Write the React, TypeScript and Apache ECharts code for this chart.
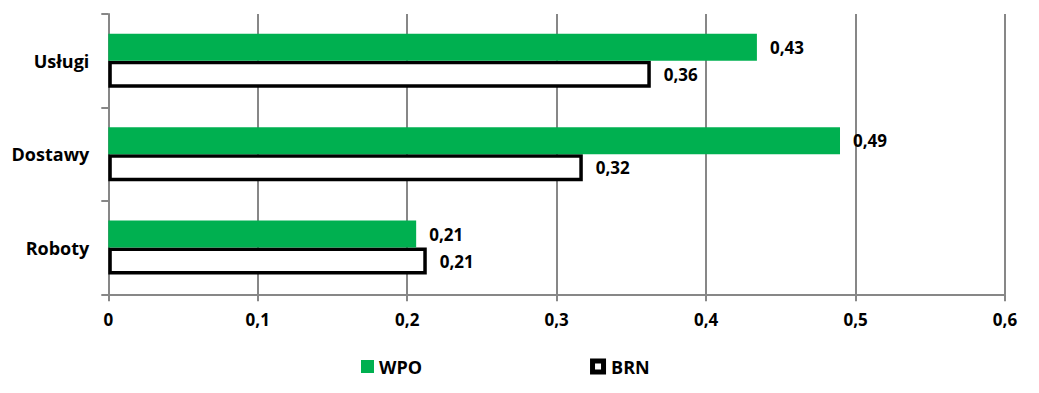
import React, { useEffect, useRef } from "react";
import * as echarts from "echarts";

const categories = ["Roboty", "Dostawy", "Usługi"];
const wpoValues = [0.206, 0.4896, 0.434];
const brnValues = [0.2131, 0.3175, 0.363];
const xTickLabels = ["0", "0,1", "0,2", "0,3", "0,4", "0,5", "0,6"];
const seriesNames = ["WPO", "BRN"];

const FONT = "'Open Sans', 'Noto Sans', sans-serif";
const GRAY = "#878787";
const GREEN = "#00B050";

const fmt = (v: number) => v.toFixed(2).replace(".", ",");

export default function App() {
  const ref = useRef<HTMLDivElement>(null);
  useEffect(() => {
    if (!ref.current) return;
    const chart = echarts.init(ref.current, undefined, { renderer: "svg" });
    const labelStyle = {
      show: true,
      position: "right" as const,
      distance: 13,
      fontFamily: FONT,
      fontWeight: "bold" as const,
      fontSize: 17,
      color: "#000",
      formatter: (p: any) => fmt(p.value),
    };
    chart.setOption({
      animation: false,
      textStyle: { fontFamily: FONT },
      grid: { left: 108.3, right: 34, top: 14, bottom: 98.7, containLabel: false },
      legend: {
        left: 358,
        top: 357.5,
        padding: 0,
        itemWidth: 16,
        itemHeight: 16,
        itemGap: 168,
        textStyle: { fontFamily: FONT, fontWeight: "bold", fontSize: 18, color: "#000" },
        data: [
          {
            name: seriesNames[0],
            icon: "path://M0,0M16,16M3,1.5H16V14.5H3Z",
            itemStyle: { color: GREEN, borderWidth: 0 },
          },
          {
            name: seriesNames[1],
            icon: "path://M0,0H16V16H0Z M5,5V11H11V5Z",
            itemStyle: { color: "#000", borderWidth: 0 },
          },
        ],
      },
      xAxis: {
        type: "value",
        min: 0,
        max: 0.6,
        interval: 0.1,
        axisLine: { show: true, lineStyle: { color: GRAY, width: 2 } },
        axisTick: { show: true, length: 7, lineStyle: { color: GRAY, width: 2 } },
        splitLine: { show: true, lineStyle: { color: GRAY, width: 2 } },
        axisLabel: {
          margin: 17,
          fontFamily: FONT,
          fontWeight: "bold",
          fontSize: 17,
          color: "#000",
          formatter: (_v: number, i: number) => xTickLabels[i],
        },
      },
      yAxis: {
        type: "category",
        data: categories,
        axisLine: { show: true, lineStyle: { color: GRAY, width: 2 } },
        axisTick: { show: true, length: 7, lineStyle: { color: GRAY, width: 2 } },
        axisLabel: {
          margin: 19,
          fontFamily: FONT,
          fontWeight: "bold",
          fontSize: 18,
          color: "#000",
        },
      },
      series: [
        {
          name: seriesNames[0],
          type: "bar",
          data: wpoValues,
          barWidth: 27,
          barGap: "0%",
          z: 3,
          itemStyle: { color: GREEN },
          label: labelStyle,
        },
        {
          name: seriesNames[1],
          type: "bar",
          data: brnValues,
          barWidth: 27,
          barGap: "0%",
          z: 2,
          itemStyle: { color: "#fff", borderColor: "#000", borderWidth: 3.5 },
          label: labelStyle,
        },
      ],
    });
    return () => chart.dispose();
  }, []);
  return (
    <div
      ref={ref}
      style={{ position: "absolute", left: 0, top: 0, width: 1039, height: 393 }}
    />
  );
}
